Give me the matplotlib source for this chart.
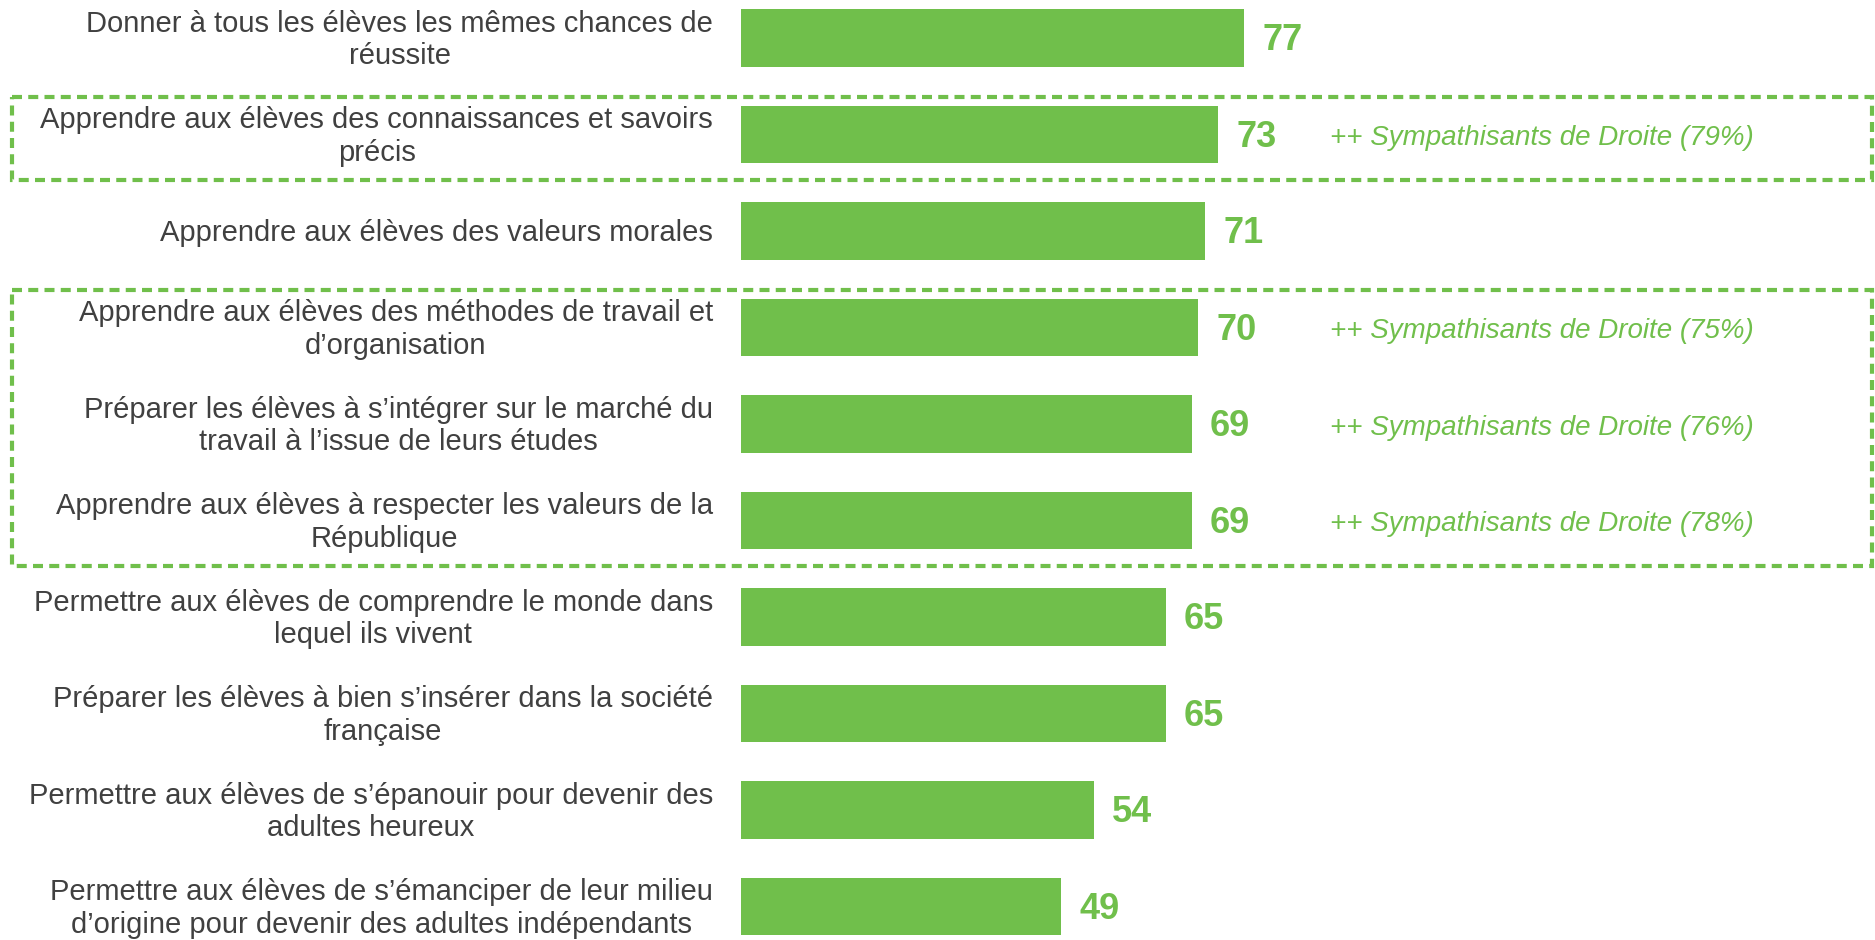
import matplotlib.pyplot as plt
from matplotlib.patches import Rectangle
from matplotlib.transforms import blended_transform_factory

plt.rcParams['font.family'] = ['Liberation Sans', 'DejaVu Sans']

labels = [
    "Donner à tous les élèves les mêmes chances de\nréussite",
    "Apprendre aux élèves des connaissances et savoirs\nprécis",
    "Apprendre aux élèves des valeurs morales",
    "Apprendre aux élèves des méthodes de travail et\nd’organisation",
    "Préparer les élèves à s’intégrer sur le marché du\ntravail à l’issue de leurs études",
    "Apprendre aux élèves à respecter les valeurs de la\nRépublique",
    "Permettre aux élèves de comprendre le monde dans\nlequel ils vivent",
    "Préparer les élèves à bien s’insérer dans la société\nfrançaise",
    "Permettre aux élèves de s’épanouir pour devenir des\nadultes heureux",
    "Permettre aux élèves de s’émanciper de leur milieu\nd’origine pour devenir des adultes indépendants",
]
values = [77, 73, 71, 70, 69, 69, 65, 65, 54, 49]
notes = ["", "++ Sympathisants de Droite (79%)", "",
         "++ Sympathisants de Droite (75%)",
         "++ Sympathisants de Droite (76%)",
         "++ Sympathisants de Droite (78%)",
         "", "", "", ""]
# highlighted groups (first row, last row)
boxes = [(1, 1), (3, 5)]

green = "#70BF4B"
grey = "#404040"

fig = plt.figure(figsize=(18.75, 9.4), dpi=100)
ax = fig.add_axes([741 / 1875, 0, 1 - 741 / 1875, 1])

ypos = list(range(len(values)))
ax.barh(ypos, values, height=0.6, color=green)
ax.set_xlim(0, 173.6)
ax.set_ylim(9.347, -0.394)
ax.axis("off")

for i, (lab, v, n) in enumerate(zip(labels, values, notes)):
    ax.text(v + 2.8, i + 0.03, str(v), color=green, fontsize=26,
            fontweight="bold", va="center", ha="left")
    ax.annotate(lab, xy=(0, i + 0.02), xytext=(-28, 0),
                textcoords="offset pixels", ha="right", va="center",
                multialignment="center", fontsize=21, color=grey,
                linespacing=1.22)
    if n:
        ax.text(90.2, i + 0.04, n, color=green, fontsize=20, style="italic",
                va="center", ha="left")

tr = blended_transform_factory(fig.transFigure, ax.transData)
for a, b in boxes:
    top = a - 0.39
    bot = b + 0.47
    r = Rectangle((12 / 1875, top), (1872 - 12) / 1875, bot - top,
                  transform=tr, fill=False, edgecolor=green, linewidth=3,
                  linestyle=(0, (2.4, 1.5)), clip_on=False)
    ax.add_patch(r)

fig.savefig("out.png", dpi=100)
